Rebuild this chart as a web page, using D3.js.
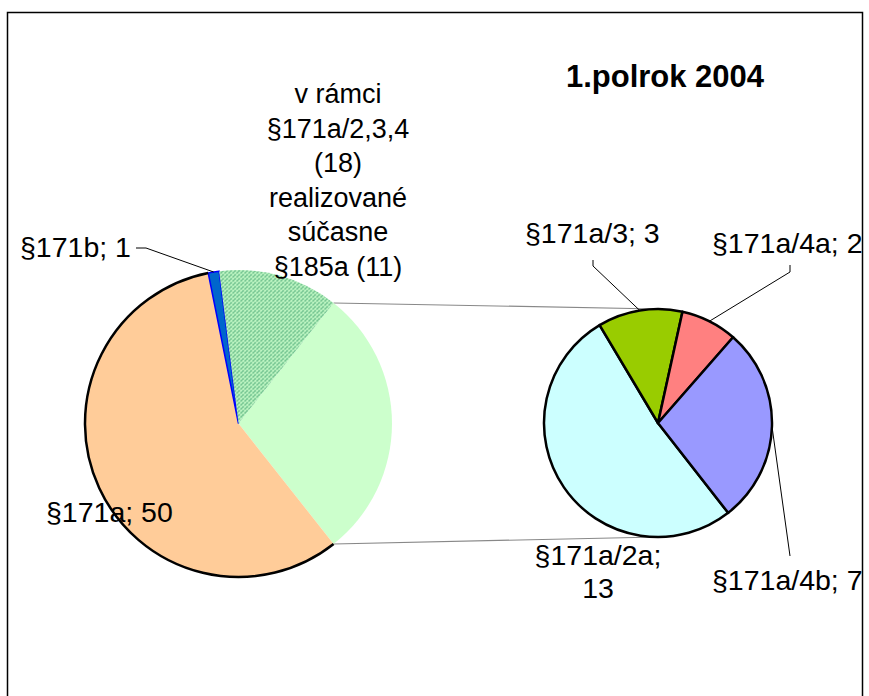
<!DOCTYPE html>
<meta charset="utf-8">
<head>
    <script src="https://d3js.org/d3.v7.min.js"></script>
    <style>
    body { margin: 0; background: white; }
    text { font-family: "Liberation Sans", Arial, sans-serif; fill: #000; }
    .lbl { font-size: 28.5px; }
    .note { font-size: 27px; }
    .title { font-size: 31px; font-weight: bold; }
    </style>
</head>
<body>
<svg id="chart"></svg>
<script>
// main pie: the "other" slice is split into the second pie
var mainNames  = ["other", "§171a", "§171b", "§185a"];
var mainValues = [25, 50, 1, 11];
var mainColors = ["#ccffcc", "#ffcc99", "#0066cc", "url(#hatch)"];

// second pie (breakdown of the 25)
var subNames  = ["§171a/2a", "§171a/3", "§171a/4a", "§171a/4b"];
var subValues = [13, 3, 2, 7];
var subColors = ["#ccffff", "#99cc00", "#ff8080", "#9999ff"];

var width = 869, height = 696;
var svg = d3.select("#chart").attr("width", width).attr("height", height);

var defs = svg.append("defs");
var pat = defs.append("pattern")
    .attr("id", "hatch")
    .attr("patternUnits", "userSpaceOnUse")
    .attr("width", 4).attr("height", 4);
pat.append("rect").attr("width", 4).attr("height", 4).attr("fill", "#ccffcc");
pat.append("path").attr("d", "M-1,1 l2,-2 M0,4 l4,-4 M3,5 l2,-2")
    .attr("stroke", "#339966").attr("stroke-width", 1.2)
    .attr("stroke-dasharray", "2,1");

defs.append("clipPath").attr("id", "frameClip")
    .append("rect").attr("x", 8).attr("y", 12).attr("width", 855).attr("height", 700);

var g = svg.append("g").attr("clip-path", "url(#frameClip)");

// frame
svg.append("rect")
    .attr("x", 7.5).attr("y", 12.5).attr("width", 855).attr("height", 720)
    .attr("fill", "none").attr("stroke", "#000").attr("stroke-width", 1.5);

var deg = Math.PI / 180;
var total = d3.sum(mainValues);
var otherSpan = mainValues[0] / total * 2 * Math.PI;
var mainStart = Math.PI / 2 - otherSpan / 2;

var c1 = {x: 238.5, y: 423.5, r: 153.5};
var c2 = {x: 658, y: 423, r: 114};

var pie1 = d3.pie().sort(null).startAngle(mainStart).endAngle(mainStart + 2 * Math.PI);
var pie2 = d3.pie().sort(null).startAngle(142 * deg).endAngle(142 * deg + 2 * Math.PI);
var arcs1 = pie1(mainValues);
var arcs2 = pie2(subValues);

var arc1 = d3.arc().innerRadius(0).outerRadius(c1.r);
var arc2 = d3.arc().innerRadius(0).outerRadius(c2.r);

function rim(c, a) { return [c.x + c.r * Math.sin(a), c.y - c.r * Math.cos(a)]; }

// connector lines between the pies
var o = arcs1[0];
var pTop = rim(c1, o.startAngle), pBot = rim(c1, o.endAngle);
g.append("line").attr("x1", pTop[0]).attr("y1", pTop[1]).attr("x2", c2.x).attr("y2", c2.y - c2.r)
    .attr("stroke", "#888").attr("stroke-width", 1.2);
g.append("line").attr("x1", pBot[0]).attr("y1", pBot[1]).attr("x2", c2.x).attr("y2", c2.y + c2.r)
    .attr("stroke", "#888").attr("stroke-width", 1.2);

// first pie
var p1 = g.append("g").attr("transform", "translate(" + c1.x + "," + c1.y + ")");
p1.selectAll("path.slice").data(arcs1).enter().append("path")
    .attr("class", "slice")
    .attr("d", arc1)
    .attr("fill", function(d, i) { return mainColors[i]; })
    .attr("stroke", function(d, i) { return i == 2 ? "#0000ff" : "none"; })
    .attr("stroke-width", 1.5);
// black outline on the outer edge of the big slice only
p1.append("path")
    .attr("d", d3.arc().innerRadius(c1.r).outerRadius(c1.r)(arcs1[1]))
    .attr("fill", "none").attr("stroke", "#000").attr("stroke-width", 2.5);

// second pie
var p2 = g.append("g").attr("transform", "translate(" + c2.x + "," + c2.y + ")");
p2.selectAll("path").data(arcs2).enter().append("path")
    .attr("d", arc2)
    .attr("fill", function(d, i) { return subColors[i]; })
    .attr("stroke", "#000").attr("stroke-width", 2.5)
    .attr("stroke-linejoin", "round");

// leader lines
function mid(d) { return (d.startAngle + d.endAngle) / 2; }
var lead = d3.line();
function leader(pts) {
    g.append("path").attr("d", lead(pts)).attr("fill", "none")
        .attr("stroke", "#000").attr("stroke-width", 1);
}
var b = rim(c1, mid(arcs1[2]));
leader([[136, 248], [146, 248], b]);
var s3 = rim(c2, mid(arcs2[1]));
leader([[593, 260], [593, 266], s3]);
var s4a = rim(c2, mid(arcs2[2]));
leader([[790, 265], [790, 272], s4a]);
var s4b = rim(c2, mid(arcs2[3]));
leader([[790, 556], s4b]);

// labels
function label(x, y, txt, anchor, cls) {
    g.append("text").attr("class", cls || "lbl").attr("x", x).attr("y", y)
        .attr("text-anchor", anchor || "start").text(txt);
}
label(20, 257, mainNames[2] + "; " + mainValues[2]);
label(46, 522, mainNames[1] + "; " + mainValues[1]);
label(525, 243, subNames[1] + "; " + subValues[1]);
label(712, 253, subNames[2] + "; " + subValues[2]);
label(712, 590, subNames[3] + "; " + subValues[3]);
label(598, 565, subNames[0] + ";", "middle");
label(598, 598, subValues[0], "middle");

var noteLines = ["v rámci", "§171a/2,3,4", "(18)", "realizované", "súčasne", "§185a (" + mainValues[3] + ")"];
noteLines.forEach(function(t, i) {
    label(338, 103 + i * 34.5, t, "middle", "note");
});

g.append("text").attr("class", "title").attr("x", 665).attr("y", 87)
    .attr("text-anchor", "middle").text("1.polrok 2004");
</script>
</body>
